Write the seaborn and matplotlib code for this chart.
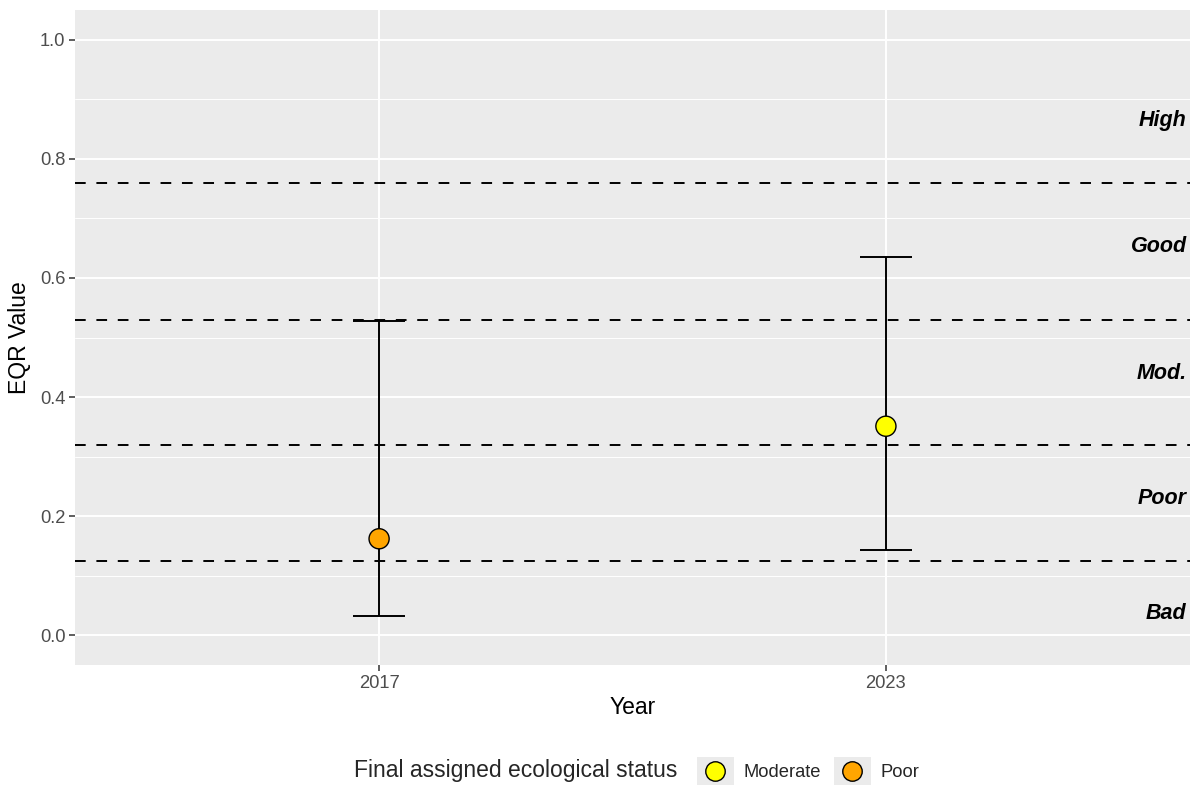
import matplotlib
matplotlib.use('Agg')
import matplotlib.pyplot as plt
from matplotlib.patches import Rectangle
from matplotlib.lines import Line2D
from matplotlib.legend_handler import HandlerBase
import seaborn as sns
import pandas as pd

# ── Data ──────────────────────────────────────────────────────────────────
years    = ['2017', '2023']
eqr      = [0.162, 0.351]
eqr_low  = [0.032, 0.143]
eqr_high = [0.528, 0.636]
status   = ['Poor', 'Moderate']

boundaries    = [0.76, 0.53, 0.32, 0.125]
class_names   = ['High', 'Good', 'Mod.', 'Poor', 'Bad']
class_label_y = [0.864, 0.652, 0.44, 0.229, 0.037]

status_order  = ['Moderate', 'Poor']
status_colors = {'Moderate': '#FFFF00', 'Poor': '#FFA500'}

df = pd.DataFrame({'Year': years, 'EQR': eqr, 'low': eqr_low,
                   'high': eqr_high, 'Status': status})
df['pos'] = range(len(df))


# ggplot-like legend key: grey square with the point in its centre
class KeyHandler(HandlerBase):
    def create_artists(self, legend, orig_handle, xdescent, ydescent,
                       width, height, fontsize, trans):
        bg = Rectangle((-xdescent, -ydescent), width, height,
                       facecolor='#EBEBEB', edgecolor='none', transform=trans)
        pt = Line2D([-xdescent + width / 2], [-ydescent + height / 2],
                    marker='o', linestyle='none',
                    markersize=orig_handle.get_markersize(),
                    markerfacecolor=orig_handle.get_markerfacecolor(),
                    markeredgecolor='black', markeredgewidth=1.0,
                    transform=trans)
        return [bg, pt]


# ── Style ─────────────────────────────────────────────────────────────────
sns.set_theme(style='darkgrid', rc={'axes.facecolor': '#EBEBEB',
                                    'grid.color': 'white'})
plt.rcParams['font.family'] = ['Liberation Sans', 'DejaVu Sans']

fig = plt.figure(figsize=(11.98, 7.88), dpi=100)
ax = fig.add_axes([75 / 1198, 1 - 665 / 788, 1115 / 1198, 655 / 788])

# ── Error bars + points ───────────────────────────────────────────────────
ax.errorbar(df['pos'], df['EQR'],
            yerr=[df['EQR'] - df['low'], df['high'] - df['EQR']],
            fmt='none', ecolor='black', elinewidth=1.4, capsize=18.5,
            capthick=1.4, zorder=3)
sns.scatterplot(data=df, x='pos', y='EQR', hue='Status',
                hue_order=status_order, palette=status_colors,
                s=210, edgecolor='black', linewidth=1.0, zorder=4,
                legend=False, ax=ax)

for b in boundaries:
    ax.axhline(b, color='black', linestyle=(0, (5.5, 5.5)), linewidth=1.4,
               zorder=2)

for name, yv in zip(class_names, class_label_y):
    ax.text(0.997, yv, name, transform=ax.get_yaxis_transform(),
            ha='right', va='center', fontsize=15.5, fontweight='bold',
            fontstyle='italic', color='black')

# ── Axes ──────────────────────────────────────────────────────────────────
ax.set_xlim(-0.6, 1.6)
ax.set_ylim(-0.05, 1.05)
ax.set_xticks(df['pos'])
ax.set_xticklabels(years)
ax.set_yticks([0.0, 0.2, 0.4, 0.6, 0.8, 1.0])
ax.set_yticklabels(['0.0', '0.2', '0.4', '0.6', '0.8', '1.0'])
ax.set_yticks([0.1, 0.3, 0.5, 0.7, 0.9], minor=True)
ax.grid(which='major', color='white', linewidth=1.4)
ax.grid(which='minor', axis='y', color='white', linewidth=0.7)
ax.tick_params(which='major', bottom=True, left=True, length=4, width=1.1,
               color='#333333', labelsize=13.2, labelcolor='#4D4D4D', pad=3)
ax.tick_params(which='minor', length=0)
for s in ax.spines.values():
    s.set_visible(False)
ax.set_xlabel('Year', fontsize=16.5, color='black', labelpad=3)
ax.set_ylabel('EQR Value', fontsize=16.5, color='black', labelpad=6)

# ── Legend ────────────────────────────────────────────────────────────────
handles = [Line2D([], [], marker='o', linestyle='none', markersize=14,
                  markerfacecolor=status_colors[st]) for st in status_order]
fig.text(677 / 1198, 1 - 771 / 788, 'Final assigned ecological status',
         ha='right', va='center', fontsize=16.5)
fig.legend(handles, status_order, loc='center left',
           bbox_to_anchor=(684 / 1198, 1 - 771 / 788), ncol=2,
           frameon=False, fontsize=13.2, handlelength=2.0, handleheight=2.0,
           handletextpad=0.55, columnspacing=0.7, borderpad=0.2,
           handler_map={Line2D: KeyHandler()})

fig.savefig('out.png', dpi=100, facecolor='white')
